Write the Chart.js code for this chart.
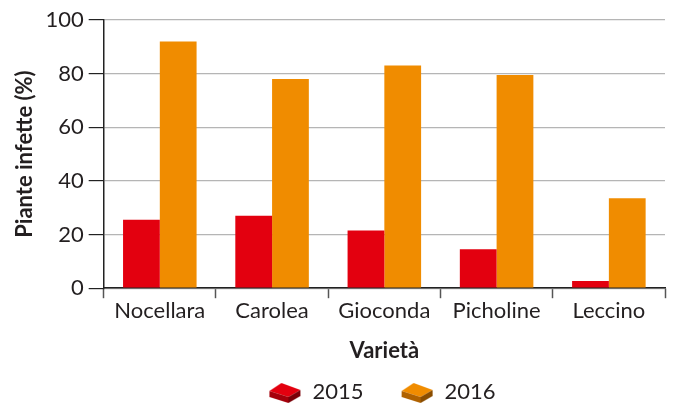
<!DOCTYPE html>
<html lang="en">
<head>
<meta charset="UTF-8">
<title>Piante infette</title>
<script src="https://cdn.jsdelivr.net/npm/chart.js"></script>
<style>
    html, body { margin: 0; padding: 0; background: #fff; }
    #wrap { width: 676px; height: 405px; }
</style>
</head>
<body>
<div id="wrap"><canvas id="myChart"></canvas></div>
<script>
    const varieta = ['Nocellara', 'Carolea', 'Gioconda', 'Picholine', 'Leccino'];
    const anni = ['2015', '2016'];
    const valori2015 = [25.5, 27, 21.5, 14.5, 2.7];
    const valori2016 = [92, 78, 83, 79.5, 33.5];
    const yTicks = [0, 20, 40, 60, 80, 100];

    const rosso = '#e3000f';
    const arancio = '#f08c00';
    const testo = '#231f20';

    // little 3D brick used as legend marker
    function brick(face, top, side) {
        const c = document.createElement('canvas');
        c.width = 34; c.height = 24;
        const g = c.getContext('2d');
        g.fillStyle = top;
        g.beginPath();
        g.moveTo(2, 11); g.lineTo(14, 3); g.lineTo(33, 10); g.lineTo(21, 17); g.closePath();
        g.fill();
        g.fillStyle = face;
        g.beginPath();
        g.moveTo(2, 11); g.lineTo(21, 17); g.lineTo(21, 23); g.lineTo(2, 17); g.closePath();
        g.fill();
        g.fillStyle = side;
        g.beginPath();
        g.moveTo(21, 17); g.lineTo(33, 10); g.lineTo(33, 16); g.lineTo(21, 23); g.closePath();
        g.fill();
        return c;
    }

    // move the legend so it sits under the plot area, like the original
    const legendShift = {
        id: 'legendShift',
        afterLayout(chart) {
            chart.legend.left += 45;
            chart.legend.right += 45;
        }
    };

    const ctx = document.getElementById('myChart').getContext('2d');
    const myChart = new Chart(ctx, {
        type: 'bar',
        data: {
            labels: varieta,
            datasets: [{
                label: anni[0],
                data: valori2015,
                backgroundColor: rosso,
                pointStyle: brick('#a5000b', rosso, '#7a0008'),
                barPercentage: 1,
                categoryPercentage: 0.655
            }, {
                label: anni[1],
                data: valori2016,
                backgroundColor: arancio,
                pointStyle: brick('#b06200', arancio, '#8a4d00'),
                barPercentage: 1,
                categoryPercentage: 0.655
            }]
        },
        plugins: [legendShift],
        options: {
            responsive: true,
            maintainAspectRatio: false,
            animation: false,
            layout: { padding: { top: 20, right: 11, left: 8, bottom: -8 } },
            plugins: {
                legend: {
                    position: 'bottom',
                    labels: {
                        usePointStyle: true,
                        pointStyleWidth: 34,
                        color: testo,
                        font: { family: 'Lato', size: 22 },
                        padding: 8,
                        generateLabels: (chart) => {
                            const items = Chart.defaults.plugins.legend.labels.generateLabels(chart);
                            // widen the gap after the first entry
                            items[0].text = items[0].text + '     ';
                            return items;
                        }
                    }
                },
                tooltip: { enabled: false }
            },
            scales: {
                x: {
                    grid: {
                        offset: true,
                        drawOnChartArea: false,
                        tickLength: 10,
                        tickColor: '#555',
                        tickWidth: 1.5
                    },
                    border: { color: '#222', width: 1.5 },
                    ticks: {
                        color: testo,
                        font: { family: 'Lato', size: 22 },
                        padding: 0
                    },
                    title: {
                        display: true,
                        text: 'Varietà',
                        color: testo,
                        font: { family: 'Lato', size: 22, weight: 'bold' },
                        padding: { top: 13, bottom: 9 }
                    }
                },
                y: {
                    min: 0,
                    max: 100,
                    afterBuildTicks: (axis) => { axis.ticks = yTicks.map(v => ({ value: v })); },
                    grid: {
                        color: '#b5b5b5',
                        tickColor: '#222',
                        tickLength: 15,
                        lineWidth: 1.2
                    },
                    border: { color: '#222', width: 1.5 },
                    ticks: {
                        color: testo,
                        font: { family: 'Lato', size: 22 },
                        padding: 5
                    },
                    title: {
                        display: true,
                        text: 'Piante infette (%)',
                        color: testo,
                        font: { family: 'Lato', size: 22, weight: 'bold' },
                        padding: { top: 4, bottom: 2 }
                    }
                }
            }
        }
    });
</script>
</body>
</html>
